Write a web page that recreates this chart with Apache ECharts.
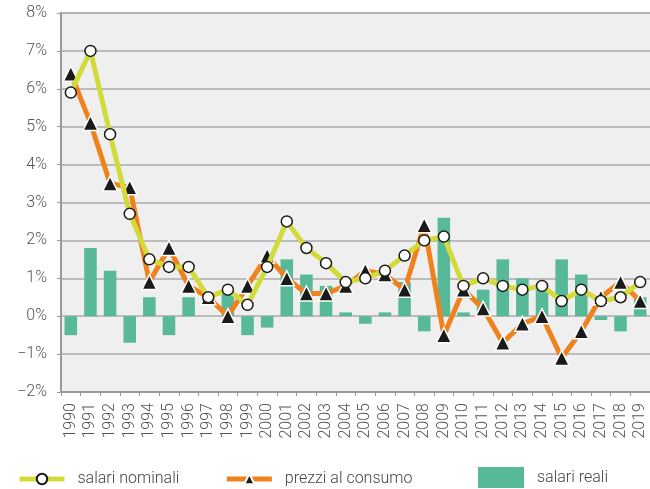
<!DOCTYPE html>
<html>
<head>
<meta charset="utf-8">
<script src="https://cdn.jsdelivr.net/npm/echarts@6/dist/echarts.min.js"></script>
<style>
  html, body { margin: 0; padding: 0; background: #fff; }
  #chart { width: 650px; height: 489px; }
</style>
</head>
<body>
<div id="chart"></div>
<script>
var years = ["1990", "1991", "1992", "1993", "1994", "1995", "1996", "1997", "1998", "1999",
    "2000", "2001", "2002", "2003", "2004", "2005", "2006", "2007", "2008", "2009",
    "2010", "2011", "2012", "2013", "2014", "2015", "2016", "2017", "2018", "2019"];
var salariNominali = [5.9, 7.0, 4.8, 2.7, 1.5, 1.3, 1.3, 0.5, 0.7, 0.3,
    1.3, 2.5, 1.8, 1.4, 0.9, 1.0, 1.2, 1.6, 2.0, 2.1,
    0.8, 1.0, 0.8, 0.7, 0.8, 0.4, 0.7, 0.4, 0.5, 0.9];
var prezziConsumo = [6.4, 5.1, 3.5, 3.4, 0.9, 1.8, 0.8, 0.5, 0.0, 0.8,
    1.6, 1.0, 0.6, 0.6, 0.8, 1.2, 1.1, 0.7, 2.4, -0.5,
    0.7, 0.2, -0.7, -0.2, 0.0, -1.1, -0.4, 0.5, 0.9, 0.4];
var salariReali = [-0.5, 1.8, 1.2, -0.7, 0.5, -0.5, 0.5, 0.0, 0.6, -0.5,
    -0.3, 1.5, 1.1, 0.8, 0.1, -0.2, 0.1, 0.9, -0.4, 2.6,
    0.1, 0.7, 1.5, 1.0, 0.8, 1.5, 1.1, -0.1, -0.4, 0.5];

var chart = echarts.init(document.getElementById("chart"));
var font = "Roboto";
var gridColors = [];
for (var i = 0; i < 10; i++) gridColors.push("#ababab");
gridColors.push("#999999");

var legendText = { fontFamily: font, fontSize: 16, fontWeight: 300, color: "#444", padding: [0, 0, 0, 8] };

var option = {
    animation: false,
    textStyle: { fontFamily: font },
    grid: {
        left: 61, right: 0, top: 13, bottom: 97,
        show: true, backgroundColor: "#efefef", borderWidth: 0
    },
    legend: [{
        left: 12, top: 466,
        itemWidth: 45, itemHeight: 13, itemGap: 45,
        lineStyle: { width: 5 },
        textStyle: legendText,
        data: ["salari nominali", "prezzi al consumo"]
    }, {
        left: 473, top: 462,
        itemWidth: 46, itemHeight: 21,
        textStyle: legendText,
        data: [{ name: "salari reali", icon: "rect" }]
    }],
    xAxis: {
        type: "category",
        data: years,
        axisLine: { onZero: false, lineStyle: { color: "#999", width: 2 } },
        axisTick: { show: true, length: 4, lineStyle: { color: "#999", width: 1 } },
        axisLabel: { interval: 0, rotate: 90, fontSize: 16, color: "#555", margin: 11, fontFamily: font, fontWeight: 300 }
    },
    yAxis: {
        type: "value",
        min: -2, max: 8, interval: 1,
        axisLine: { show: true, lineStyle: { color: "#999", width: 2 } },
        axisTick: { show: true, length: 4, lineStyle: { color: "#999", width: 1 } },
        splitLine: { lineStyle: { color: gridColors, width: 1.5 } },
        axisLabel: {
            fontSize: 16, color: "#555", margin: 14, fontFamily: font, fontWeight: 300,
            formatter: function (v) {
                return (v < 0 ? "\u2212" + Math.abs(v) : v) + "%";
            }
        }
    },
    series: [{
        name: "salari reali",
        type: "bar",
        data: salariReali,
        barWidth: "64%",
        itemStyle: { color: "#58b999" },
        z: 1
    }, {
        name: "prezzi al consumo",
        type: "line",
        data: prezziConsumo,
        symbol: "triangle",
        symbolSize: 15,
        showAllSymbol: true,
        lineStyle: { color: "#f0821e", width: 5 },
        itemStyle: { color: "#1a1a1a", borderColor: "#fff", borderWidth: 1.5 },
        z: 3
    }, {
        name: "salari nominali",
        type: "line",
        data: salariNominali,
        symbol: "circle",
        symbolSize: 11,
        showAllSymbol: true,
        lineStyle: { color: "#d3db3a", width: 5 },
        itemStyle: { color: "#fff", borderColor: "#1a1a1a", borderWidth: 1.5 },
        z: 4
    }]
};
chart.setOption(option);
window.addEventListener("resize", chart.resize);
</script>
</body>
</html>
